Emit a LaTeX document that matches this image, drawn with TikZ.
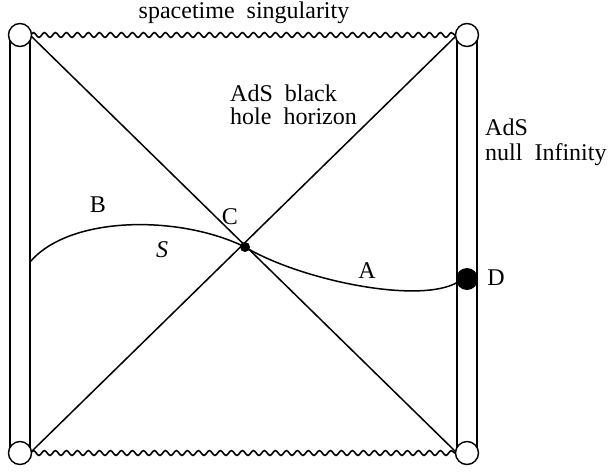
\documentclass[tikz,border=0pt]{standalone}
\usepackage{fontspec}
\setmainfont{Liberation Serif}
\usetikzlibrary{decorations.pathmorphing}
\begin{document}
\begin{tikzpicture}[x=1pt,y=-1pt,
  ln/.style={line width=1.5pt},
  wavy/.style={line width=1.6pt,decorate,decoration={snake,segment length=11pt,amplitude=2.4pt}},
  endcirc/.style={circle,draw,line width=1.4pt,fill=white,minimum size=23pt,inner sep=0pt},
  lbl/.style={font=\fontsize{24}{22}\selectfont,inner sep=0pt}]
\useasboundingbox (0,0) rectangle (611,472);
% corner coordinates
\coordinate (TLi) at (30,35);
\coordinate (TRi) at (457,35);
\coordinate (BLi) at (30,453);
\coordinate (BRi) at (457,453);
\coordinate (TLo) at (10,35);
\coordinate (TRo) at (477,35);
\coordinate (BLo) at (10,453);
\coordinate (BRo) at (477,453);
% strips
\draw[ln] (TLo) -- (BLo);
\draw[ln] (TLi) -- (BLi);
\draw[ln] (TRo) -- (BRo);
\draw[ln] (TRi) -- (BRi);
% singularities
\draw[wavy] (TLi) -- (TRi);
\draw[wavy] (BLi) -- (BRi);
% horizons
\draw[ln] (TLi) -- (BRi);
\draw[ln] (BLi) -- (TRi);
% corner circles
\node[endcirc] (ctl) at (20,35) {};
\node[endcirc] (ctr) at (467,35) {};
\node[endcirc] (cbl) at (20,453) {};
\node[endcirc] (cbr) at (467,453) {};
% points
\node[circle,fill=black,minimum size=10pt,inner sep=0pt] (C) at (245,247) {};
\node[circle,fill=black,minimum size=22pt,inner sep=0pt] (D) at (467,279) {};
\coordinate (Bstart) at (30,262);
\coordinate (Aend) at (458,282);
% slice
\draw[ln] (Bstart) .. controls (70,215) and (180,215) .. (C.center);
\draw[ln] (C.center) .. controls (300,280) and (420,305) .. (Aend);
% labels
\node[lbl,align=left,anchor=north west,font=\fontsize{24}{23.5}\selectfont] (bh) at (230,84.5) {AdS\ \ black\\hole\ \ horizon};
\node[lbl,anchor=base] (sing) at (244,18) {spacetime\ \ singularity};
\node[lbl,align=left,anchor=north west,font=\fontsize{24}{25}\selectfont] (ni) at (485,118.6) {AdS\\null\ \ Infinity};
\node[lbl] (lB) at (98,205) {B};
\node[lbl] (lC) at (230,217) {C};
\node[lbl] (lA) at (367,271) {A};
\node[lbl] (lS) at (162,250) {\itshape S};
\node[lbl] (lD) at (496,278) {D};
\end{tikzpicture}
\end{document}
